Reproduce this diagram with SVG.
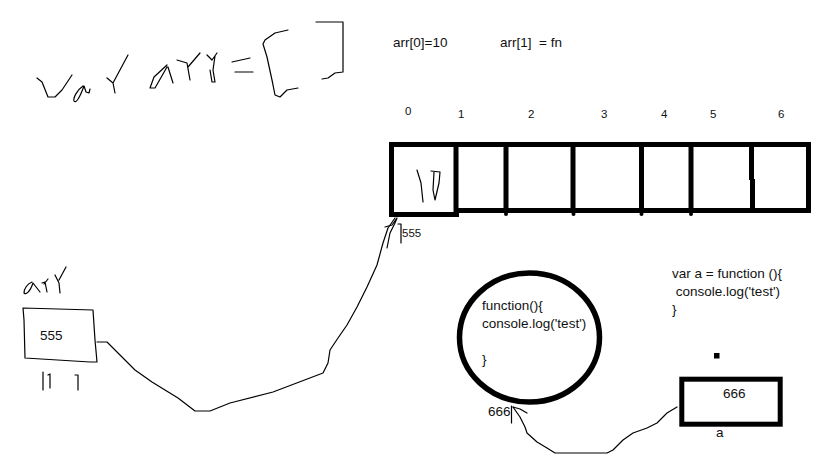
<svg xmlns="http://www.w3.org/2000/svg" width="819" height="460" viewBox="0 0 819 460">
<style>
.ink{fill:none;stroke:#000;stroke-width:1.2;stroke-linejoin:round;stroke-linecap:round}
.thick{fill:none;stroke:#000;stroke-width:5}
.t{font-family:"Liberation Sans",Arial,sans-serif;font-size:13.5px;fill:#111}
.s{font-family:"Liberation Sans",Arial,sans-serif;font-size:11.5px;fill:#111}
</style>
<rect width="819" height="460" fill="#fff"/>
<g id="title">
<path class="ink" d="M37,78 L42,82 L48,97 L55,97 L62,90 L72,75"/>
<path class="ink" d="M83,86 C77,90 73,98 74,101 C76,104 80,97 84,86 M84,86 L86,92 L89,93 L90,89"/>
<path class="ink" d="M107,78 L113,83 L115,93 M128,55 L113,83"/>
<path class="ink" d="M167,65 L154,77 L150,88 L155,88 L167,67 M168,67 L173,83"/>
<path class="ink" d="M177,60 L187,63 L190,80 M200,53 L188,67"/>
<path class="ink" d="M207,55 L212,60 L217,53 M215,56 L213,70 L215,82 L212,82 L210,70"/>
<path class="ink" d="M232,62 L250,58 M235,72 L253,72"/>
<path class="ink" d="M288,30 L275,33 L265,40 L263,44 L267,57 L272,80 L275,95 L280,97 L287,90 L298,88"/>
<path class="ink" d="M316,22 L343,22 L343,72 L335,73 L328,78 L322,79"/>
</g>
<g id="labels">
<text class="t" x="393" y="47">arr[0]=10</text>
<text class="t" x="500" y="47" xml:space="preserve">arr[1]  = fn</text>
</g>
<g id="array">
<text class="s" x="405" y="115">0</text>
<text class="s" x="458" y="118">1</text>
<text class="s" x="528" y="118">2</text>
<text class="s" x="601" y="118">3</text>
<text class="s" x="661" y="118">4</text>
<text class="s" x="710" y="118">5</text>
<text class="s" x="778" y="118">6</text>
<path class="thick" d="M389,144.5 H811 M808.5,142 V213 M456,210.5 H811"/>
<path class="thick" d="M391.5,142 V217 M389,214.5 H459 M456,142 V217"/>
<path class="thick" d="M506,142 V213 M573,142 V213 M641.5,142 V213 M691,142 V213 M751.5,142 V180 M752.5,179 V213"/>
<circle cx="506" cy="214" r="2"/><circle cx="573.5" cy="214" r="2"/><circle cx="641.5" cy="214" r="2"/><circle cx="691" cy="214" r="2"/>
<path class="ink" d="M417,170 L421,183 L423,202"/>
<path class="ink" d="M431,171 L440,172 L439,183 L435,200 L433,190 L434,172"/>
<path class="ink" d="M398,224 L401,224 L401,243"/>
<text class="s" x="402" y="237">555</text>
</g>
<g id="arr-var">
<path class="ink" d="M32,282 C27,284 24,289 24,293 C26,295 30,292 33,283 L40,292 M42,283 L45,282 L47,292 M48,279 L44,284 M55,275 L59,283 L60,293 M66,267 L59,280"/>
<path class="ink" d="M23,308 L93,310 L95,340 L97,362 L90,362 L25,358 L24,320 Z"/>
<text class="t" x="40" y="340">555</text>
<path class="ink" d="M43,372 L43,390 M48,375 L50,374 L50,388 M75,375 L78,375 L78,390"/>
</g>
<g id="function">
<ellipse cx="529.5" cy="337.5" rx="70" ry="64.5" fill="none" stroke="#000" stroke-width="5.5"/>
<text class="t" x="482" y="310">function(){</text>
<text class="t" x="482" y="328">console.log('test')</text>
<text class="t" x="482" y="364">}</text>
<text class="t" x="488" y="416">666</text>
<path class="ink" d="M511.5,406 L511.5,423"/>
</g>
<g id="code">
<text class="t" x="672" y="278">var a = function (){</text>
<text class="t" x="672" y="296" xml:space="preserve"> console.log('test')</text>
<text class="t" x="672" y="314">}</text>
<rect x="714" y="353" width="5.5" height="5.5" fill="#000"/>
</g>
<g id="a-var">
<rect x="681.8" y="379.2" width="98.4" height="45" class="thick"/>
<text class="t" x="723" y="398">666</text>
<text class="t" x="716" y="437">a</text>
</g>
<g id="connectors">
<path class="ink" d="M97,342 L107,342 L120,355 L135,370 L152,382 L178,398 L195,411 L210,411 L230,403 L273,392 L323,373 L328,363 L330,350 L338,338 L347,325 L357,307 L367,287 L377,265 L383,243 L388,228 L395,218"/>
<path class="ink" d="M385,227 L392,225 L397,218 L395,223 L390,233 L387,248"/>
<path class="ink" d="M677,407 L667,413 L657,423 L647,428 L633,433 L623,440 L613,450 L607,453 L555,453 L547,448 L537,442 L527,433 L525,427 L520,417 L513,407"/>
<path class="ink" d="M513,407 L520,409 L527,413"/>
</g>
</svg>
